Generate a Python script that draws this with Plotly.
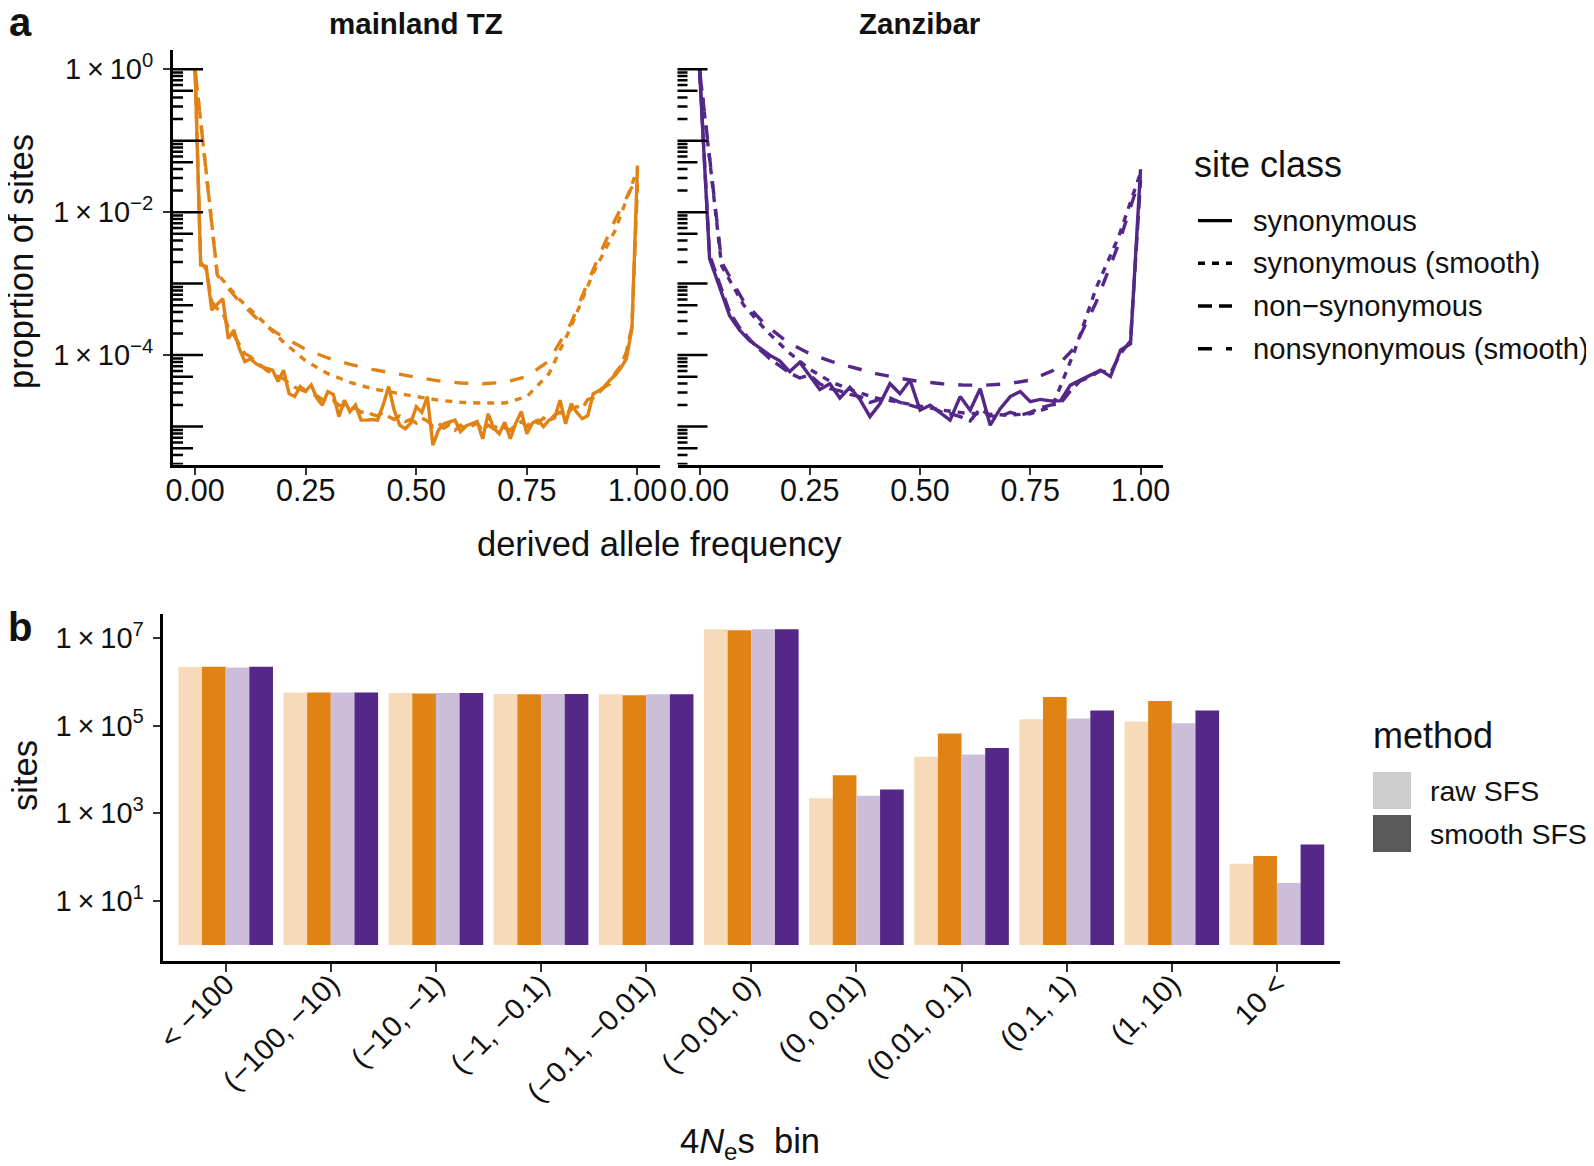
import numpy as np
import plotly.graph_objects as go

# The page body adds an 8 px margin; the figure is sized to fill the window inside it.
OFF = 8
W, H = 1594 - 2 * OFF, 1166 - OFF
FONT = "Liberation Sans, Arial, sans-serif"

ORANGE = "#E08214"
PURPLE = "#542788"
ORANGE_LIGHT = "#F6DAB9"
PURPLE_LIGHT = "#CCBEDB"

# ---------------- panel a : site frequency spectra ----------------
# derived allele count / sample size
mainland_sample_size = 80
zanzibar_sample_size = 44
mainland_freq = np.arange(mainland_sample_size + 1) / mainland_sample_size
zanzibar_freq = np.arange(zanzibar_sample_size + 1) / zanzibar_sample_size

# proportion of sites, given as log10 values
mainland_syn_log10 = [
    -0.01, -2.74, -2.76, -3.37, -3.29, -3.21, -3.77, -3.65, -3.91, -4.09,
    -4.05, -4.12, -4.16, -4.18, -4.21, -4.37, -4.21, -4.54, -4.58, -4.44,
    -4.50, -4.42, -4.60, -4.70, -4.51, -4.55, -4.86, -4.63, -4.79, -4.70,
    -4.91, -4.91, -4.90, -4.91, -4.70, -4.44, -4.77, -4.98, -5.03, -4.95,
    -4.72, -4.80, -4.58, -5.26, -5.05, -4.96, -4.93, -4.91, -5.07, -4.99,
    -4.96, -4.93, -5.17, -4.82, -5.02, -5.10, -4.94, -5.17, -4.95, -4.79,
    -5.10, -4.95, -4.91, -5.00, -4.91, -4.88, -4.63, -4.96, -4.68, -4.80,
    -4.89, -4.85, -4.54, -4.50, -4.44, -4.35, -4.28, -4.18, -4.05, -3.63,
    -1.35,
]
mainland_nonsyn_log10 = [
    -0.01, -2.70, -2.80, -3.25, -3.35, -3.40, -3.62, -3.72, -3.85, -3.98,
    -4.02, -4.10, -4.15, -4.22, -4.25, -4.30, -4.33, -4.40, -4.45, -4.48,
    -4.52, -4.55, -4.57, -4.62, -4.66, -4.64, -4.70, -4.72, -4.75, -4.74,
    -4.80, -4.78, -4.83, -4.85, -4.80, -4.86, -4.90, -4.85, -4.93, -4.90,
    -4.95, -4.88, -4.92, -5.00, -4.95, -5.02, -4.97, -5.05, -4.98, -5.04,
    -5.00, -4.95, -5.06, -4.98, -5.03, -4.96, -5.02, -5.05, -4.97, -4.93,
    -5.00, -4.90, -4.95, -4.88, -4.92, -4.84, -4.80, -4.85, -4.76, -4.72,
    -4.75, -4.62, -4.60, -4.52, -4.45, -4.40, -4.25, -4.15, -3.95, -3.60,
    -1.60,
]
zanzibar_syn_log10 = [
    -0.01, -2.65, -3.05, -3.45, -3.65, -3.80, -3.90, -4.00, -4.08, -4.23,
    -4.10, -4.30, -4.48, -4.40, -4.60, -4.45, -4.62, -4.86, -4.68, -4.40,
    -4.54, -4.35, -4.77, -4.70, -4.80, -4.91, -4.58, -4.77, -4.47, -4.98,
    -4.75, -4.58, -4.51, -4.65, -4.62, -4.64, -4.64, -4.42, -4.35, -4.28,
    -4.21, -4.30, -3.93, -3.84, -1.40,
]
zanzibar_nonsyn_log10 = [
    -0.01, -2.60, -3.00, -3.40, -3.62, -3.78, -3.92, -4.05, -4.15, -4.25,
    -4.32, -4.28, -4.40, -4.47, -4.50, -4.55, -4.58, -4.66, -4.62, -4.60,
    -4.66, -4.70, -4.74, -4.72, -4.79, -4.82, -4.86, -4.92, -4.75, -4.85,
    -4.86, -4.80, -4.84, -4.80, -4.74, -4.70, -4.68, -4.50, -4.36, -4.30,
    -4.22, -4.25, -3.98, -3.80, -1.55,
]

smooth_freq = [0.00, 0.05, 0.10, 0.15, 0.20, 0.25, 0.30, 0.35, 0.40, 0.45, 0.50,
               0.55, 0.60, 0.65, 0.70, 0.75, 0.80, 0.85, 0.90, 0.95, 1.00]
mainland_syn_smooth_log10 = [-0.01, -2.86, -3.22, -3.51, -3.82, -4.08, -4.26, -4.38, -4.47, -4.53, -4.58,
                             -4.63, -4.66, -4.67, -4.67, -4.58, -4.26, -3.60, -2.85, -2.25, -1.40]
mainland_nonsyn_smooth_log10 = [-0.01, -2.88, -3.25, -3.55, -3.75, -3.92, -4.04, -4.13, -4.20, -4.26, -4.31,
                                -4.36, -4.39, -4.40, -4.38, -4.30, -4.08, -3.55, -2.80, -2.10, -1.50]
zanzibar_syn_smooth_log10 = [-0.01, -2.75, -3.30, -3.65, -3.95, -4.20, -4.38, -4.50, -4.60, -4.66, -4.72,
                             -4.77, -4.81, -4.83, -4.84, -4.82, -4.72, -3.95, -3.05, -2.35, -1.45]
zanzibar_nonsyn_smooth_log10 = [-0.01, -2.70, -3.25, -3.58, -3.82, -3.98, -4.09, -4.18, -4.26, -4.32, -4.37,
                                -4.40, -4.42, -4.42, -4.40, -4.35, -4.22, -3.90, -3.25, -2.45, -1.50]

site_classes = ["synonymous", "synonymous (smooth)", "non\u2212synonymous", "nonsynonymous (smooth)"]
class_dash = {
    "synonymous": "solid",
    "synonymous (smooth)": "7px,7px",
    "non\u2212synonymous": "14px,7px",
    "nonsynonymous (smooth)": "14px,14px",
}

freq_ticks = [0, 0.25, 0.5, 0.75, 1.0]
freq_ticktext = ["0.00", "0.25", "0.50", "0.75", "1.00"]
prop_ticks = [1, 1e-2, 1e-4]
prop_ticktext = ["1\u2009\u00d7\u200910<sup>0</sup>", "1\u2009\u00d7\u200910<sup>\u22122</sup>",
                 "1\u2009\u00d7\u200910<sup>\u22124</sup>"]

# ---------------- panel b : sites per 4Nes bin ----------------
nes_bins = ["< \u2212100", "(\u2212100, \u221210)", "(\u221210, \u22121)", "(\u22121, \u22120.1)",
            "(\u22120.1, \u22120.01)", "(\u22120.01, 0)", "(0, 0.01)", "(0.01, 0.1)",
            "(0.1, 1)", "(1, 10)", "10 <"]
mainland_raw_sites = [2.14e6, 5.62e5, 5.50e5, 5.25e5, 5.13e5, 1.55e7, 2.19e3, 1.95e4, 1.38e5, 1.23e5, 71]
mainland_smooth_sites = [2.19e6, 5.62e5, 5.37e5, 5.13e5, 4.90e5, 1.48e7, 7.4e3, 6.6e4, 4.47e5, 3.63e5, 107]
zanzibar_raw_sites = [2.09e6, 5.62e5, 5.50e5, 5.25e5, 5.13e5, 1.55e7, 2.51e3, 2.19e4, 1.45e5, 1.12e5, 26]
zanzibar_smooth_sites = [2.19e6, 5.62e5, 5.50e5, 5.25e5, 5.13e5, 1.55e7, 3.47e3, 3.09e4, 2.19e5, 2.19e5, 195]
sites_ticks = [1e1, 1e3, 1e5, 1e7]
sites_ticktext = ["1\u2009\u00d7\u200910<sup>1</sup>", "1\u2009\u00d7\u200910<sup>3</sup>",
                  "1\u2009\u00d7\u200910<sup>5</sup>", "1\u2009\u00d7\u200910<sup>7</sup>"]
methods = ["raw SFS", "smooth SFS"]
method_key_colors = ["#CDCDCD", "#595959"]

# ---------------- layout geometry (pixels of the 1594x1166 page) ----------------
def px_x(p):
    return (p - OFF) / W

def px_y(p):
    return 1 - (p - OFF) / H

A_LEFT = (173, 659.6)
A_RIGHT = (677.5, 1162.6)
A_Y = (50.2, 464.5)
B_X = (162.6, 1340)
B_Y = (614, 960.8)
A_YRANGE = [-5.53, 0.265]
B_YRANGE = [-0.36, 7.54]

fig = go.Figure()

def add_panel(freq, syn, nonsyn, syn_s, nonsyn_s, color, xa, ya):
    series = [
        (freq, syn, "synonymous"),
        (smooth_freq, syn_s, "synonymous (smooth)"),
        (freq, nonsyn, "non\u2212synonymous"),
        (smooth_freq, nonsyn_s, "nonsynonymous (smooth)"),
    ]
    for xs, ys, name in series:
        fig.add_trace(go.Scatter(
            x=list(xs), y=[10 ** v for v in ys], mode="lines", name=name,
            line=dict(color=color, width=3.4, dash=class_dash[name]),
            xaxis=xa, yaxis=ya, showlegend=False, hoverinfo="skip"))

add_panel(mainland_freq, mainland_syn_log10, mainland_nonsyn_log10,
          mainland_syn_smooth_log10, mainland_nonsyn_smooth_log10, ORANGE, "x", "y")
add_panel(zanzibar_freq, zanzibar_syn_log10, zanzibar_nonsyn_log10,
          zanzibar_syn_smooth_log10, zanzibar_nonsyn_smooth_log10, PURPLE, "x2", "y2")

# bars
bar_series = [
    (mainland_raw_sites, ORANGE_LIGHT, "mainland TZ raw SFS"),
    (mainland_smooth_sites, ORANGE, "mainland TZ smooth SFS"),
    (zanzibar_raw_sites, PURPLE_LIGHT, "Zanzibar raw SFS"),
    (zanzibar_smooth_sites, PURPLE, "Zanzibar smooth SFS"),
]
for vals, col, name in bar_series:
    fig.add_trace(go.Bar(
        x=nes_bins, y=[v - 1 for v in vals], base=1, name=name,
        marker=dict(color=col, line=dict(width=0)),
        xaxis="x3", yaxis="y3", showlegend=False))

# ---------------- log ticks (annotation_logticks style), data coordinates ----------------
shapes = []
for yref, xdom, (p0, p1) in (("y", "x domain", A_LEFT), ("y2", "x2 domain", A_RIGHT)):
    pw = p1 - p0
    for k in range(-6, 1):
        for m in range(1, 10):
            v = m * 10.0 ** k
            if np.log10(v) < A_YRANGE[0] or np.log10(v) > A_YRANGE[1]:
                continue
            ln = 30 if m == 1 else (20 if m == 5 else 10)
            shapes.append(dict(type="line", xref=xdom, yref=yref,
                               x0=0, x1=ln / pw, y0=v, y1=v,
                               line=dict(color="black", width=2.5)))

# ---------------- legends (drawn as keys + text, like ggplot's guides) ----------------
TXT = "#111111"
def ann(text, x, y, size, bold=False, angle=0, xanchor="center", yanchor="middle"):
    if bold:
        text = "<b>" + text + "</b>"
    return dict(text=text, x=px_x(x), y=px_y(y), xref="paper", yref="paper",
                showarrow=False, textangle=angle, xanchor=xanchor, yanchor=yanchor,
                font=dict(family=FONT, size=size, color=TXT))

annotations = [
    ann("a", 20, 22, 40, bold=True),
    ann("b", 20, 627, 40, bold=True),
    ann("mainland TZ", (A_LEFT[0] + A_LEFT[1]) / 2, 23, 29.5, bold=True),
    ann("Zanzibar", (A_RIGHT[0] + A_RIGHT[1]) / 2, 23, 29.5, bold=True),
    ann("derived allele frequency", 659, 544, 34.5),
    ann("proprtion of sites", 21, 262, 34.5, angle=-90),
    ann("sites", 25, 776, 34.5, angle=-90),
    ann("4<i>N</i><sub>e</sub>s&nbsp; bin", 750, 1143, 34.5),
    ann("site class", 1192, 165, 36, xanchor="left"),
    ann("method", 1371, 735, 36, xanchor="left"),
]

legend_rows_y = [220.6, 263.3, 306.0, 348.7]
for name, yy in zip(site_classes, legend_rows_y):
    shapes.append(dict(type="line", xref="paper", yref="paper",
                       x0=px_x(1198), x1=px_x(1232), y0=px_y(yy), y1=px_y(yy),
                       line=dict(color="black", width=3.4, dash=class_dash[name])))
    annotations.append(ann(name, 1251, yy, 29.2, xanchor="left"))

method_rows = [(772, 809, 791), (815, 852, 834)]
for name, col, (y0, y1, yt) in zip(methods, method_key_colors, method_rows):
    shapes.append(dict(type="rect", xref="paper", yref="paper",
                       x0=px_x(1373), x1=px_x(1411), y0=px_y(y1), y1=px_y(y0),
                       fillcolor=col, line=dict(width=0)))
    annotations.append(ann(name, 1428, yt, 28.5, xanchor="left"))

axis_common = dict(showgrid=False, zeroline=False, showline=True, linecolor="black",
                   linewidth=3, ticks="outside", tickcolor="#333333", tickwidth=2,
                   ticklen=7, automargin=False, tickfont=dict(family=FONT, size=30.5, color=TXT))
yfont = dict(family=FONT, size=29, color=TXT)

fig.update_layout(
    width=W, height=H,
    margin=dict(l=0, r=0, t=0, b=0, autoexpand=False),
    paper_bgcolor="white", plot_bgcolor="white",
    font=dict(family=FONT, color=TXT),
    showlegend=False,
    barmode="group", bargap=0.1, bargroupgap=0,
    xaxis=dict(domain=[px_x(A_LEFT[0]), px_x(A_LEFT[1])], range=[-0.05, 1.05], anchor="y",
               tickvals=freq_ticks, ticktext=freq_ticktext, ticklabelstandoff=-10, **axis_common),
    yaxis=dict(domain=[px_y(A_Y[1]), px_y(A_Y[0])], type="log", range=A_YRANGE, anchor="x",
               tickvals=prop_ticks, ticktext=prop_ticktext, ticklabelstandoff=4,
               **{**axis_common, "tickfont": yfont}),
    xaxis2=dict(domain=[px_x(A_RIGHT[0]), px_x(A_RIGHT[1])], range=[-0.05, 1.05], anchor="y2",
                tickvals=freq_ticks, ticktext=freq_ticktext, ticklabelstandoff=-10, **axis_common),
    yaxis2=dict(domain=[px_y(A_Y[1]), px_y(A_Y[0])], type="log", range=A_YRANGE, anchor="x2",
                showline=False, showticklabels=False, ticks="", showgrid=False, zeroline=False,
                automargin=False),
    xaxis3=dict(domain=[px_x(B_X[0]), px_x(B_X[1])], type="category", range=[-0.6, 10.6],
                anchor="y3", tickangle=-45, ticklabelstandoff=-16,
                **{**axis_common, "ticklen": 8, "tickfont": dict(family=FONT, size=29, color=TXT)}),
    yaxis3=dict(domain=[px_y(B_Y[1]), px_y(B_Y[0])], type="log", range=B_YRANGE, anchor="x3",
                tickvals=sites_ticks, ticktext=sites_ticktext, ticklabelstandoff=3,
                **{**axis_common, "tickfont": yfont}),
    shapes=shapes,
    annotations=annotations,
)

fig.write_html("out.html")
